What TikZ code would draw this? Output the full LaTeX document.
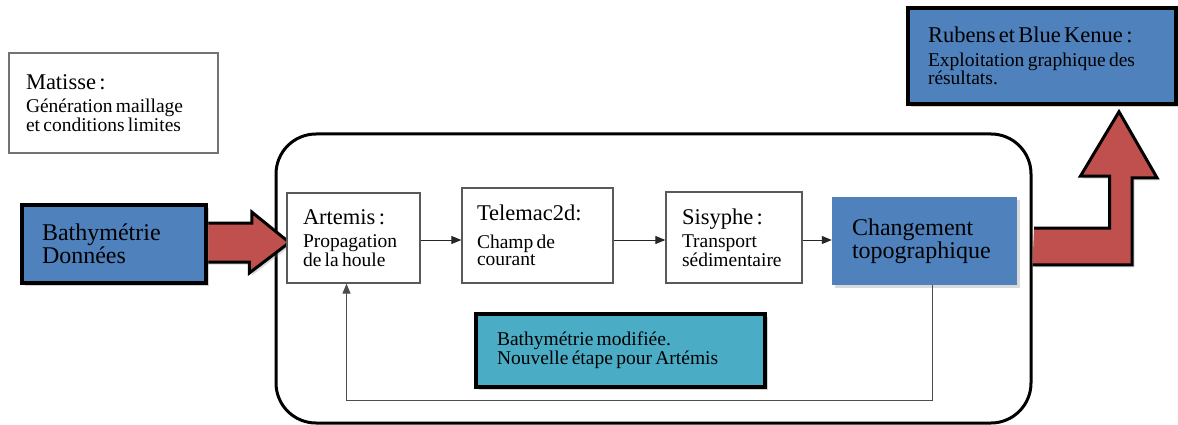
\documentclass[tikz,border=0pt]{standalone}
\usepackage{fontspec}
\setmainfont{Liberation Serif}
\usetikzlibrary{arrows.meta,shadows,backgrounds}

\definecolor{boxblue}{RGB}{79,129,189}
\definecolor{arrowred}{RGB}{192,80,77}
\definecolor{modifcolor}{RGB}{75,172,198}
\newcommand{\bigtxt}{\fontsize{24}{27}\selectfont}
\newcommand{\headtxt}{\fontsize{22.5}{25}\selectfont}
\newcommand{\subtxt}{\fontsize{19.5}{22.5}\selectfont}

\tikzset{
  dims/.style n args={3}{minimum width=#1pt, minimum height=#2pt, text width=#3pt},
  toolbox/.style={draw=black!65, line width=1.3pt, fill=white, align=left, inner sep=0pt},
  heavybox/.style={draw=black, line width=3.5pt, align=left, inner sep=0pt,
    drop shadow={opacity=0.35, shadow xshift=3pt, shadow yshift=-3pt}},
  topobox/.style={fill=boxblue, align=left, inner sep=0pt,
    drop shadow={opacity=0.3, shadow xshift=3pt, shadow yshift=-3pt}},
  chainbox/.style={draw=black, line width=3pt, rounded corners=40pt, inner sep=0pt},
  blockarrow/.style={fill=arrowred, draw=black, line width=3pt, line join=miter,
    drop shadow={opacity=0.3, shadow xshift=2.5pt, shadow yshift=-2.5pt}},
  conn/.style={-{Triangle[length=10pt,width=8pt]}, line width=1pt, black!85},
  back/.style={-{Triangle[length=10pt,width=8pt]}, line width=1.2pt, black!70}
}

\begin{document}
\begin{tikzpicture}[x=1pt, y=-1pt]
    \useasboundingbox (0,0) rectangle (1178,425);
    % Inputs and outputs
    \node[toolbox, draw=black!55, dims={209}{100}{175}] (matisse) at (113.5,103)
      {\headtxt Matisse :\\[1pt]\subtxt Génération maillage\\et conditions limites};
    \node[heavybox, fill=boxblue, dims={184}{78}{144}] (bathy) at (114,244)
      {\bigtxt Bathymétrie\\Données};
    \node[heavybox, fill=boxblue, dims={268}{96}{228}] (rubens) at (1042,56)
      {\headtxt Rubens et Blue Kenue :\\[1pt]\subtxt Exploitation graphique des\\résultats.};
    % Calculation chain
    \node[toolbox, dims={133}{90}{101}] (artemis) at (353.5,238)
      {\headtxt Artemis :\\[1pt]\subtxt Propagation\\de la houle};
    \node[toolbox, dims={151}{95}{121}] (telemac) at (537.5,235.5)
      {\headtxt Telemac2d:\\[5pt]\subtxt Champ de\\[1pt]courant};
    \node[toolbox, dims={136}{91}{104}] (sisyphe) at (734,237.5)
      {\headtxt Sisyphe :\\[1pt]\subtxt Transport\\sédimentaire};
    \node[topobox, dims={185}{88}{145}] (changement) at (924.5,241)
      {\bigtxt Changement\\topographique};
    \node[heavybox, fill=modifcolor, dims={289}{73}{247}] (modif) at (620.5,350.5)
      {\subtxt Bathymétrie modifiée.\\Nouvelle étape pour Artémis};
    % Flow arrows
    \coordinate (flow) at (0,240);
    \draw[conn] (artemis.east |- flow) -- (telemac.west |- flow);
    \draw[conn] (telemac.east |- flow) -- (sisyphe.west |- flow);
    \draw[conn] (sisyphe.east |- flow) -- (changement.west |- flow);
    \draw[back] ([xshift=8pt]changement.south) -- ++(0,115) -| ([xshift=-7pt]artemis.south);
    % Frame and block arrows behind the boxes
    \coordinate (inflow) at (0,242.5);
    \coordinate (outflow) at (0,245.5);
    \coordinate (uptip) at ([xshift=77pt,yshift=-6pt]rubens.south);
    \begin{pgfonlayer}{background}
      \node[chainbox, minimum width=755pt, minimum height=289pt] (chain) at (653.5,278.5) {};
      \filldraw[blockarrow] (bathy.east |- inflow) ++(0,-19.5) -- ++(44,0) -- ++(0,-11)
        -- ([xshift=3pt]artemis.west |- inflow) -- ++(-40,30.5) -- ++(0,-11) -- ++(-44,0);
      \filldraw[blockarrow] (chain.east |- outflow) ++(1.5,-17.5) -- ++(75.5,0) -- ++(0,-52)
        -- ++(-29,0) -- (uptip) -- ++(38,66) -- ++(-25,0) -- ++(0,87) -- ++(-99.5,0);
    \end{pgfonlayer}
\end{tikzpicture}
\end{document}
